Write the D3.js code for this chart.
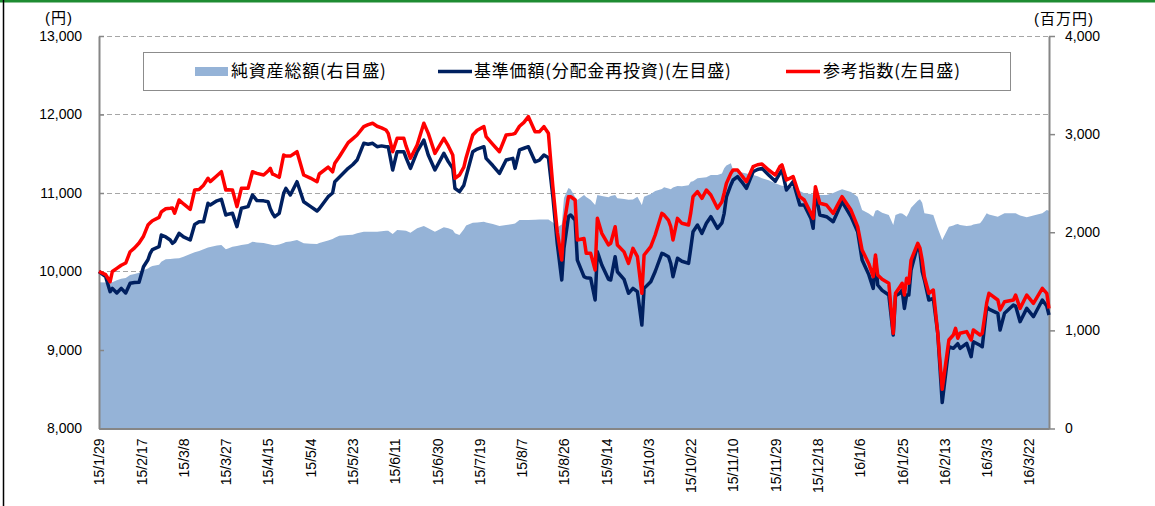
<!DOCTYPE html>
<html>
<head>
<meta charset="utf-8">
<script src="https://cdn.jsdelivr.net/npm/d3@7/dist/d3.min.js"></script>
<style>
  body { margin: 0; background: #fff; }
  svg text { font-family: "Liberation Sans", "Noto Sans CJK JP", sans-serif; fill: #000; }
  .legend text { font-family: "Noto Sans CJK JP", sans-serif; font-size: 17px; letter-spacing: 0.8px; }
</style>
</head>
<body>
<svg id="chart" width="1155" height="506"></svg>
<script>
// values (date, yen, million yen)
const dates = [
  "15/1/29","15/2/1","15/2/3","15/2/4","15/2/6","15/2/8","15/2/10","15/2/12","15/2/14","15/2/16",
  "15/2/18","15/2/20","15/2/21","15/2/22","15/2/25","15/2/26","15/2/28","15/3/2","15/3/3","15/3/4",
  "15/3/6","15/3/8","15/3/11","15/3/13","15/3/15","15/3/17","15/3/19","15/3/20","15/3/23","15/3/25",
  "15/3/27","15/3/28","15/3/30","15/4/1","15/4/3","15/4/6","15/4/8","15/4/10","15/4/13","15/4/15",
  "15/4/16","15/4/17","15/4/18","15/4/20","15/4/22","15/4/23","15/4/25","15/4/28","15/5/1","15/5/4",
  "15/5/7","15/5/8","15/5/12","15/5/14","15/5/15","15/5/17","15/5/21","15/5/23","15/5/25","15/5/28",
  "15/5/30","15/6/1","15/6/3","15/6/5","15/6/7","15/6/8","15/6/10","15/6/12","15/6/15","15/6/16",
  "15/6/18","15/6/21","15/6/24","15/6/26","15/6/29","15/7/3","15/7/5","15/7/7","15/7/8","15/7/10",
  "15/7/12","15/7/13","15/7/16","15/7/18","15/7/21","15/7/22","15/7/25","15/7/28","15/7/31","15/8/3",
  "15/8/4","15/8/6","15/8/8","15/8/10","15/8/13","15/8/15","15/8/17","15/8/19","15/8/21","15/8/23",
  "15/8/25","15/8/26","15/8/28","15/8/29","15/8/31","15/9/1","15/9/4","15/9/5","15/9/7","15/9/9",
  "15/9/10","15/9/12","15/9/15","15/9/16","15/9/18","15/9/19","15/9/22","15/9/24","15/9/26","15/9/28",
  "15/9/30","15/10/1","15/10/4","15/10/6","15/10/9","15/10/10","15/10/12","15/10/13","15/10/14","15/10/16",
  "15/10/18","15/10/21","15/10/22","15/10/23","15/10/25","15/10/27","15/10/29","15/10/31","15/11/3","15/11/5",
  "15/11/6","15/11/7","15/11/9","15/11/10","15/11/12","15/11/14","15/11/16","15/11/19","15/11/21","15/11/23",
  "15/11/26","15/11/29","15/12/1","15/12/2","15/12/4","15/12/7","15/12/10","15/12/12","15/12/15","15/12/16",
  "15/12/17","15/12/19","15/12/22","15/12/25","15/12/27","15/12/29","16/1/2","16/1/5","16/1/7","16/1/10",
  "16/1/12","16/1/13","16/1/14","16/1/16","16/1/19","16/1/21","16/1/22","16/1/24","16/1/25","16/1/26",
  "16/1/27","16/1/28","16/1/29","16/2/1","16/2/2","16/2/3","16/2/4","16/2/6","16/2/8","16/2/10",
  "16/2/12","16/2/15","16/2/17","16/2/18","16/2/19","16/2/20","16/2/23","16/2/25","16/2/26","16/2/29",
  "16/3/1","16/3/3","16/3/4","16/3/8","16/3/9","16/3/11","16/3/15","16/3/16","16/3/18","16/3/21",
  "16/3/24","16/3/28","16/3/30","16/3/31"
];

// 純資産総額 (right axis, million yen)
const netAssets = [
  1490,1488,1486,1490,1510,1525,1535,1564,1575,1588,
  1614,1630,1645,1655,1668,1700,1724,1728,1730,1732,
  1734,1750,1778,1795,1810,1826,1845,1850,1865,1870,
  1826,1835,1853,1860,1870,1880,1904,1896,1890,1880,
  1875,1870,1868,1875,1890,1900,1905,1921,1887,1883,
  1880,1890,1915,1930,1945,1965,1972,1975,1990,2006,
  2006,2006,2006,2010,2015,2016,1982,2023,2018,2016,
  1996,2040,2064,2040,2006,2050,2040,2023,1990,1972,
  2030,2070,2097,2100,2108,2100,2085,2064,2075,2084,
  2090,2125,2125,2125,2128,2130,2131,2131,2100,2050,
  2080,2350,2450,2438,2360,2329,2380,2360,2329,2278,
  2380,2370,2357,2370,2380,2346,2340,2330,2335,2363,
  2278,2363,2390,2420,2440,2458,2445,2438,2455,2471,
  2468,2480,2515,2520,2550,2555,2560,2583,2583,2600,
  2651,2680,2702,2634,2620,2610,2600,2583,2570,2550,
  2530,2500,2482,2475,2465,2458,2420,2397,2390,2385,
  2380,2380,2380,2400,2420,2438,2410,2363,2227,2190,
  2159,2220,2227,2200,2176,2074,2176,2193,2190,2176,
  2159,2200,2250,2320,2336,2300,2193,2185,2176,2040,
  1921,2057,2070,2080,2084,2075,2064,2070,2080,2091,
  2120,2193,2180,2159,2170,2193,2193,2193,2170,2152,
  2170,2193,2227,2220
];

// 基準価額(分配金再投資) (left axis, yen)
const navReinvested = [
  10000,9934,9743,9785,9726,9785,9726,9850,9860,9863,
  10061,10150,10231,10280,10316,10465,10440,10401,10359,10380,
  10486,10440,10401,10600,10634,10634,10869,10847,10900,10920,
  10720,10730,10741,10571,10805,10826,10975,10903,10900,10889,
  10800,10740,10698,10741,10996,11059,10975,11144,10889,10830,
  10771,10800,10953,11000,11144,11200,11314,11360,11420,11633,
  11620,11633,11590,11600,11590,11590,11293,11526,11526,11450,
  11314,11526,11675,11484,11293,11505,11400,11314,11059,11017,
  11100,11208,11526,11560,11590,11441,11350,11250,11420,11441,
  11314,11548,11570,11590,11398,11420,11484,11450,10950,10350,
  9892,10300,10698,10720,10656,10146,9934,9920,9913,9637,
  10252,10083,9900,9892,10189,9997,9900,9722,9785,9743,
  9318,9785,9870,10000,10231,10220,10189,10100,9934,10168,
  10130,10104,10300,10507,10592,10486,10614,10698,10550,10620,
  10741,10950,11102,11166,11208,11140,11059,11271,11300,11314,
  11229,11150,11250,11293,11038,11144,10847,10847,10677,10550,
  11017,10720,10698,10634,10760,10889,10700,10507,10146,9960,
  9785,10168,9828,9760,9700,9191,9690,9722,9764,9530,
  9700,9700,10019,10338,10250,10000,9892,9637,9658,9213,
  8330,9042,9021,9050,9080,9021,9085,8915,9106,9060,
  9042,9552,9520,9467,9255,9467,9573,9560,9361,9530,
  9424,9637,9560,9446
];

// 参考指数 (left axis)
const refIndex = [
  10000,9960,9870,10000,10040,10080,10108,10252,10300,10363,
  10450,10592,10620,10647,10690,10760,10800,10805,10809,10742,
  10911,10860,10792,11038,11045,11100,11187,11145,11220,11271,
  11038,11040,11038,10826,11059,11059,11271,11250,11229,11280,
  11314,11240,11230,11200,11484,11470,11470,11526,11229,11190,
  11144,11242,11330,11270,11380,11462,11641,11690,11739,11845,
  11870,11888,11850,11830,11803,11760,11526,11697,11697,11600,
  11442,11611,11888,11760,11505,11697,11600,11484,11187,11229,
  11330,11450,11739,11800,11845,11718,11620,11526,11739,11750,
  11760,11850,11900,11972,11781,11781,11845,11760,11080,10500,
  10146,10600,10953,10953,10911,10401,10420,10231,10231,10019,
  10677,10486,10338,10359,10571,10338,10250,10104,10295,10189,
  9722,10210,10316,10465,10741,10720,10650,10571,10401,10677,
  10614,10592,10750,10953,11017,10932,11038,10975,10805,10889,
  11000,11123,11250,11293,11293,11220,11144,11335,11360,11369,
  11293,11229,11335,11357,11166,11208,10953,10911,10741,10677,
  11080,10869,10847,10741,10850,10953,10783,10571,10274,10100,
  9934,10210,9955,9900,9850,9213,9722,9806,9850,9700,
  9913,9850,10146,10359,10300,10146,9934,9722,9764,9213,
  8500,9127,9191,9276,9150,9213,9234,9127,9255,9191,
  9213,9600,9722,9637,9510,9615,9637,9700,9530,9700,
  9594,9785,9722,9530
];

const tickLabels = [
  "15/1/29","15/2/17","15/3/8","15/3/27","15/4/15","15/5/4","15/5/23","15/6/11",
  "15/6/30","15/7/19","15/8/7","15/8/26","15/9/14","15/10/3","15/10/22","15/11/10",
  "15/11/29","15/12/18","16/1/6","16/1/25","16/2/13","16/3/3","16/3/22"
];
const leftTicks = [8000, 9000, 10000, 11000, 12000, 13000];
const rightTicks = [0, 1000, 2000, 3000, 4000];
const legendLabels = ["純資産総額(右目盛)", "基準価額(分配金再投資)(左目盛)", "参考指数(左目盛)"];

const colors = { area: "#95B3D7", nav: "#002060", ref: "#FF0000", axis: "#868686", grid: "#A6A6A6" };

const parse = d3.timeParse("%y/%m/%d");
const rows = dates.map((d, i) => ({
  date: parse(d), assets: netAssets[i], nav: navReinvested[i], ref: refIndex[i]
}));

const svg = d3.select("#chart");
const plot = { left: 99, right: 1049, top: 36, bottom: 428.5 };

const x = d3.scaleTime()
  .domain([parse("15/1/29"), parse("16/3/31")])
  .range([plot.left, plot.right]);
const yL = d3.scaleLinear().domain([8000, 13000]).range([plot.bottom, plot.top]);
const yR = d3.scaleLinear().domain([0, 4000]).range([plot.bottom, plot.top]);

// outer frame bits
svg.append("rect").attr("x", 0).attr("y", 0).attr("width", 1155).attr("height", 2.5).attr("fill", "#1E8C32");
svg.append("line").attr("x1", 3.5).attr("x2", 3.5).attr("y1", 0).attr("y2", 506)
  .attr("stroke", "#000").attr("stroke-width", 1.5);

// dashed grid for the left axis
svg.append("g").selectAll("line")
  .data(leftTicks.slice(1))
  .enter().append("line")
  .attr("x1", plot.left).attr("x2", plot.right)
  .attr("y1", d => Math.round(yL(d)) + 0.5).attr("y2", d => Math.round(yL(d)) + 0.5)
  .attr("stroke", colors.grid).attr("stroke-dasharray", "5,3");

// net assets area
const area = d3.area()
  .x(d => x(d.date))
  .y0(yR(0))
  .y1(d => yR(d.assets));
svg.append("path").datum(rows).attr("d", area).attr("fill", colors.area);

// axes
const leftAxis = d3.axisLeft(yL).tickValues(leftTicks).tickFormat(d3.format(","))
  .tickSizeInner(-5).tickSizeOuter(0).tickPadding(17);
const rightAxis = d3.axisRight(yR).tickValues(rightTicks).tickFormat(d3.format(","))
  .tickSizeInner(6).tickSizeOuter(0).tickPadding(10);
const bottomAxis = d3.axisBottom(x).tickValues(tickLabels.map(parse))
  .tickFormat((d, i) => tickLabels[i]).tickSize(0);

const gl = svg.append("g").attr("transform", `translate(${plot.left},0)`).call(leftAxis);
const gr = svg.append("g").attr("transform", `translate(${plot.right},0)`).call(rightAxis);
const gb = svg.append("g").attr("transform", `translate(0,${plot.bottom})`).call(bottomAxis);

[gl, gr, gb].forEach(g => {
  g.select(".domain").attr("stroke", colors.axis).attr("stroke-width", 2);
  g.selectAll(".tick line").attr("stroke", colors.axis).attr("stroke-width", 1.5);
  g.selectAll("text").attr("font-size", 14).attr("font-family", null);
});
gb.selectAll("text")
  .attr("transform", "rotate(-90)")
  .attr("x", -10).attr("y", 0).attr("dy", "0.35em")
  .style("text-anchor", "end");

// unit labels
svg.append("text").attr("x", 59).attr("y", 23).attr("text-anchor", "middle")
  .attr("font-size", 15).attr("letter-spacing", 1).text("(円)");
svg.append("text").attr("x", 1064).attr("y", 24).attr("text-anchor", "middle")
  .attr("font-size", 15).attr("letter-spacing", 1).text("(百万円)");

// lines
const line = key => d3.line().x(d => x(d.date)).y(d => yL(d[key]));
svg.append("path").datum(rows).attr("d", line("nav"))
  .attr("fill", "none").attr("stroke", colors.nav).attr("stroke-width", 3.5).attr("stroke-linejoin", "round");
svg.append("path").datum(rows).attr("d", line("ref"))
  .attr("fill", "none").attr("stroke", colors.ref).attr("stroke-width", 3.5).attr("stroke-linejoin", "round");

// legend
const legend = svg.append("g").attr("class", "legend");
legend.append("rect").attr("x", 143.5).attr("y", 52.5).attr("width", 867).attr("height", 38)
  .attr("fill", "#fff").attr("stroke", "#8C8C8C");
const items = [
  { sx: 195, tx: 231, type: "area", color: colors.area },
  { sx: 438, tx: 474, type: "line", color: colors.nav },
  { sx: 786, tx: 823, type: "line", color: colors.ref }
];
items.forEach((it, i) => {
  if (it.type === "area") {
    legend.append("rect").attr("x", it.sx).attr("y", 67).attr("width", 33).attr("height", 9).attr("fill", it.color);
  } else {
    legend.append("line").attr("x1", it.sx).attr("x2", it.sx + 34).attr("y1", 71.5).attr("y2", 71.5)
      .attr("stroke", it.color).attr("stroke-width", 3.5);
  }
  legend.append("text").attr("x", it.tx).attr("y", 71.5).attr("dy", "0.35em").text(legendLabels[i]);
});
</script>
</body>
</html>
